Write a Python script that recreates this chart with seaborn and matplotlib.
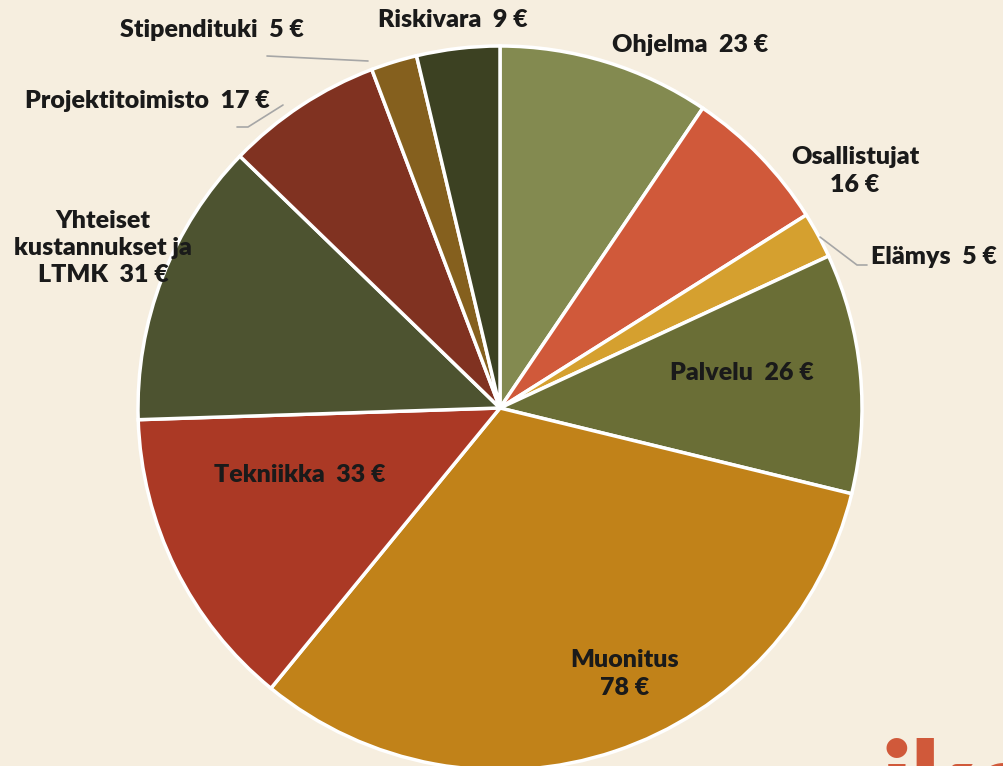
import matplotlib
matplotlib.use("Agg")
import matplotlib.pyplot as plt
import seaborn as sns

categories = ["Ohjelma", "Osallistujat", "Elämys", "Palvelu", "Muonitus",
              "Tekniikka", "Yhteiset kustannukset ja LTMK", "Projektitoimisto",
              "Stipendituki", "Riskivara"]
values = [23, 16, 5, 26, 78, 33, 31, 17, 5, 9]
colors = ["#838A50", "#D0593A", "#D5A02F", "#6A6E36", "#C18219",
          "#AB3925", "#4D5330", "#803221", "#85601E", "#3C4122"]
label_texts = ["Ohjelma  23 €", "Osallistujat\n16 €", "Elämys  5 €", "Palvelu  26 €",
               "Muonitus\n78 €", "Tekniikka  33 €", "Yhteiset\nkustannukset ja\nLTMK  31 €",
               "Projektitoimisto  17 €", "Stipendituki  5 €", "Riskivara  9 €"]

sns.set_theme(style="white")
plt.rcParams['font.family'] = ['Lato', 'DejaVu Sans']

W, H = 1004, 766
bg = "#F6EEDF"
fig = plt.figure(figsize=(W / 100, H / 100), dpi=100, facecolor=bg)
ax = fig.add_axes([0, 0, 1, 1])
ax.set_facecolor(bg)

def Y(y):
    return H - y

ax.pie(values, colors=colors, startangle=90, counterclock=False,
       center=(500, Y(408)), radius=362,
       wedgeprops=dict(edgecolor="white", linewidth=2.5))
ax.set_xlim(0, W)
ax.set_ylim(0, H)
ax.set_aspect("equal")
ax.axis("off")

# label positions (pixel coords from top-left), centered
pos = [(690, 45), (855, 171), (934, 257), (742, 373), (625, 674),
       (300, 475), (103, 248), (147, 101), (212, 30), (453, 20)]
for t, (x, y) in zip(label_texts, pos):
    ax.text(x, Y(y), t, ha="center", va="center", fontsize=18, fontweight="heavy",
            color="#1A1A1A", linespacing=1.3)

# leader lines
lc = "#A6A6A6"
ax.plot([267, 368], [Y(56), Y(61)], color=lc, lw=1.2)
ax.plot([237, 248, 283], [Y(127), Y(127), Y(105)], color=lc, lw=1.2)
ax.plot([820, 857, 867], [Y(237), Y(265), Y(265)], color=lc, lw=1.2)

# partial logo at bottom right (cut off by the frame, as in the reference)
ax.text(882, Y(822), "ike", ha="left", va="baseline", fontsize=80, fontweight="heavy",
        color="#D0593A", clip_on=True)

fig.savefig("out.png", dpi=100, facecolor=bg)
